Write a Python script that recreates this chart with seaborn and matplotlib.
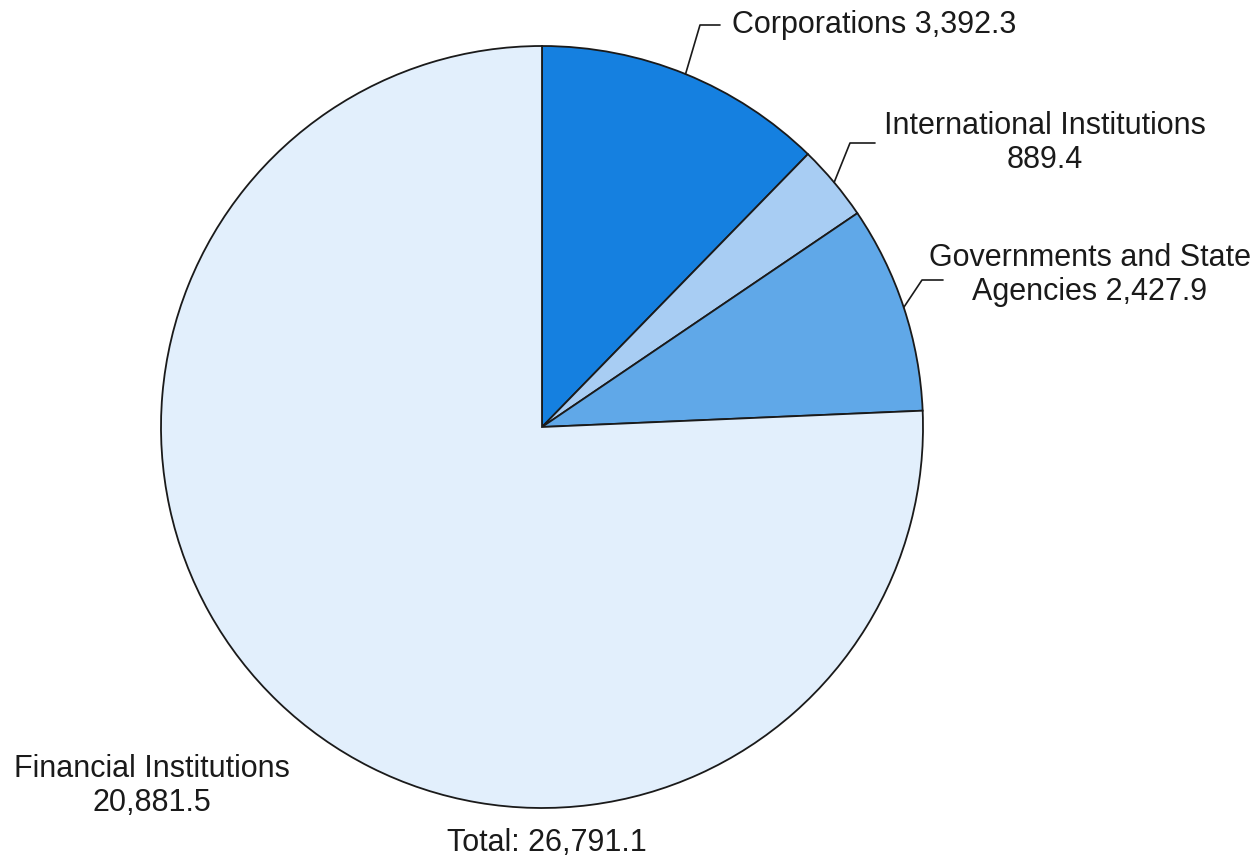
import numpy as np
import matplotlib
matplotlib.use("Agg")
import matplotlib.pyplot as plt
import seaborn as sns

sns.set_theme(style="white")
plt.rcParams["font.family"] = ["Liberation Sans", "DejaVu Sans"]

categories = ["Corporations", "International Institutions",
              "Governments and State Agencies", "Financial Institutions"]
values = [3392.3, 889.4, 2427.9, 20881.5]
labels = ["Corporations 3,392.3", "International Institutions\n889.4",
          "Governments and State\nAgencies 2,427.9", "Financial Institutions\n20,881.5"]
colors = ["#1580E0", "#A8CDF3", "#60A8E8", "#E2EFFC"]
total_text = "Total: 26,791.1"

W, H = 1256, 857
fig = plt.figure(figsize=(W / 100, H / 100), dpi=100)
ax = fig.add_axes([0, 0, 1, 1])

cx, cy, r = 542, H - 427, 381
wedges, _ = ax.pie(values, colors=colors, startangle=90, counterclock=False,
                   center=(cx, cy), radius=r, frame=True,
                   wedgeprops=dict(edgecolor="#1a1a1a", linewidth=1.3))
ax.set_xlim(0, W)
ax.set_ylim(0, H)
ax.set_aspect("equal")
ax.axis("off")

fs = 22
# leader elbows and label anchors for the three small slices
elbows = [(700, H - 25, 720), (850, H - 143, 875), (922, H - 280, 943)]
text_pos = [(732, H - 25, "left"), (1045, H - 143, "center"), (1090, H - 275, "center")]
for i in range(3):
    w = wedges[i]
    mid = np.deg2rad((w.theta1 + w.theta2) / 2)
    px, py = cx + r * np.cos(mid), cy + r * np.sin(mid)
    ex, ey, hx = elbows[i]
    ax.plot([px, ex, hx], [py, ey, ey], color="#1a1a1a", lw=1.2)
    tx, ty, ha = text_pos[i]
    ax.text(tx, ty, labels[i], ha=ha, va="center", fontsize=fs,
            color="#1a1a1a", linespacing=1.2)

ax.text(152, H - 786, labels[3], ha="center", va="center", fontsize=fs,
        color="#1a1a1a", linespacing=1.2)
ax.text(547, H - 843, total_text, ha="center", va="center", fontsize=fs,
        color="#1a1a1a")

fig.savefig("out.png", dpi=100, facecolor="white")
